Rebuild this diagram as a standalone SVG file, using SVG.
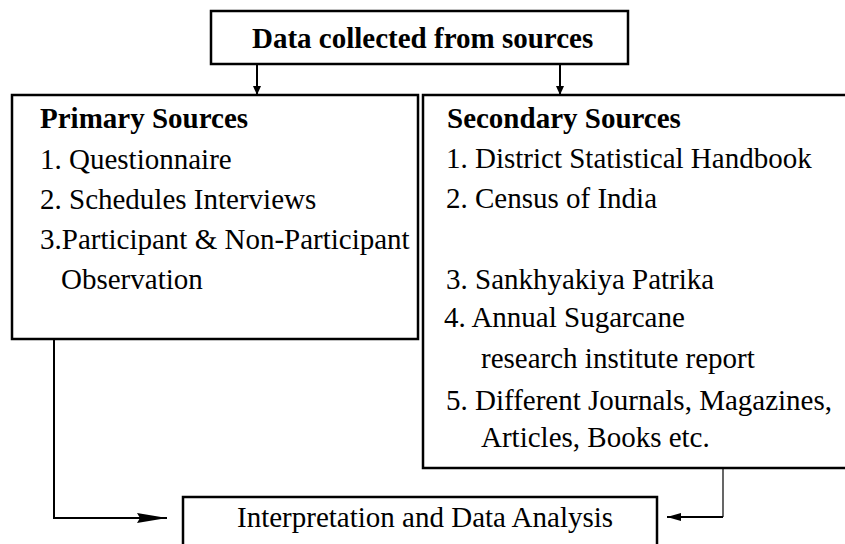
<svg xmlns="http://www.w3.org/2000/svg" width="845" height="544" viewBox="0 0 845 544">
  <style>
    .box { fill: #ffffff; stroke: #000000; stroke-width: 2.5; }
    .txt { font-family: "Liberation Serif", "Times New Roman", serif; font-size: 29px; fill: #000000; }
    .bold { font-weight: bold; }
    .wire { fill: none; stroke: #000000; stroke-width: 2; }
    .thin { fill: none; stroke: #000000; stroke-width: 1.2; }
  </style>
  <defs>
    <marker id="headSmall" markerUnits="userSpaceOnUse" markerWidth="10" markerHeight="12" refX="9" refY="5" orient="auto">
      <polygon points="0,1 9,5 0,9" fill="#000000"/>
    </marker>
    <marker id="headLong" markerUnits="userSpaceOnUse" markerWidth="32" markerHeight="12" refX="30" refY="6" orient="auto">
      <polygon points="0,1 30,6 0,11 3,6" fill="#000000"/>
    </marker>
    <marker id="headMid" markerUnits="userSpaceOnUse" markerWidth="16" markerHeight="12" refX="14" refY="6" orient="auto">
      <polygon points="0,2 14,6 0,10" fill="#000000"/>
    </marker>
  </defs>

  <rect width="845" height="544" fill="#ffffff"/>

  <!-- connectors -->
  <g id="connectors">
    <line class="wire" x1="257" y1="64" x2="257" y2="95" marker-end="url(#headSmall)"/>
    <line class="wire" x1="560" y1="64" x2="560" y2="95" marker-end="url(#headSmall)"/>
    <path class="wire" d="M54,339 V518 H167" marker-end="url(#headLong)"/>
    <line class="thin" x1="723" y1="468" x2="723" y2="517"/>
    <line class="wire" x1="723" y1="517" x2="667" y2="517" marker-end="url(#headMid)"/>
  </g>

  <!-- top node -->
  <g id="node-sources">
    <rect class="box" x="211" y="11" width="417" height="53"/>
    <text class="txt bold" x="252" y="48">Data collected from sources</text>
  </g>

  <!-- primary sources -->
  <g id="node-primary">
    <rect class="box" x="12" y="95" width="406" height="244"/>
    <text class="txt bold" x="40" y="128">Primary Sources</text>
    <text class="txt" x="40" y="169">1. Questionnaire</text>
    <text class="txt" x="40" y="209">2. Schedules Interviews</text>
    <text class="txt" x="40" y="249">3.Participant &amp; Non-Participant</text>
    <text class="txt" x="61" y="289">Observation</text>
  </g>

  <!-- secondary sources -->
  <g id="node-secondary">
    <rect class="box" x="423" y="95" width="430" height="373"/>
    <text class="txt bold" x="447" y="128">Secondary Sources</text>
    <text class="txt" x="446" y="168">1. District Statistical Handbook</text>
    <text class="txt" x="446" y="208">2. Census of India</text>
    <text class="txt" x="446" y="289">3. Sankhyakiya Patrika</text>
    <text class="txt" x="444" y="327">4. Annual Sugarcane</text>
    <text class="txt" x="481" y="368">research institute report</text>
    <text class="txt" x="446" y="410">5. Different Journals, Magazines,</text>
    <text class="txt" x="481" y="447">Articles, Books etc.</text>
  </g>

  <!-- analysis -->
  <g id="node-analysis">
    <rect class="box" x="183" y="497" width="474" height="60"/>
    <text class="txt" x="237" y="527">Interpretation and Data Analysis</text>
  </g>
</svg>
